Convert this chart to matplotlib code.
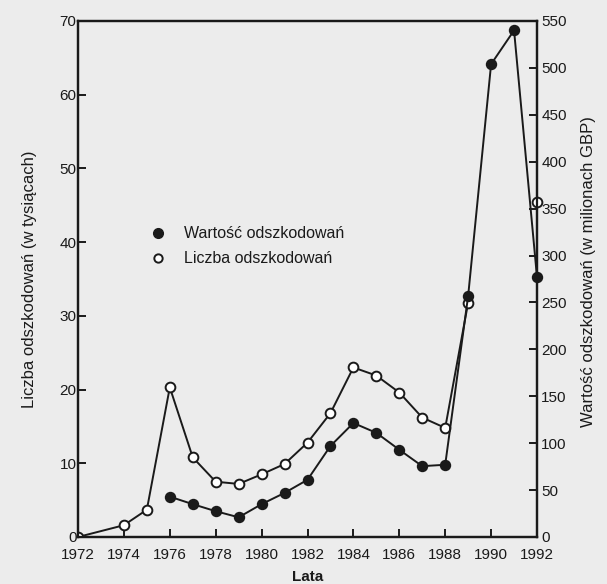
import matplotlib
matplotlib.use("Agg")
import matplotlib.pyplot as plt
import numpy as np

plt.rcParams['font.family'] = ['Liberation Sans', 'DejaVu Sans']

# Liczba odszkodowań (w tysiącach) - left axis, open circles
count_years = [1972, 1974, 1975, 1976, 1977, 1978, 1979, 1980, 1981, 1982,
               1983, 1984, 1985, 1986, 1987, 1988, 1989]
count_vals = [0, 1.6, 3.7, 20.3, 10.8, 7.5, 7.2, 8.5, 9.9, 12.8,
              16.8, 23.0, 21.9, 19.6, 16.2, 14.8, 31.8]
count_extra_year = [1992]
count_extra_val = [45.5]

# Wartość odszkodowań (w milionach GBP) - right axis, filled circles
value_years = [1976, 1977, 1978, 1979, 1980, 1981, 1982, 1983, 1984, 1985,
               1986, 1987, 1988, 1989, 1990, 1991, 1992]
value_vals = [43, 35, 27.5, 21, 35, 47, 61, 97, 121.5, 111,
              93, 75.5, 77, 257, 504, 540, 277]

x_ticks = list(range(1972, 1993, 2))
left_ticks = list(range(0, 71, 10))
right_ticks = list(range(0, 551, 50))

bg = '#ececec'
fig = plt.figure(figsize=(6.07, 5.84), dpi=100, facecolor=bg)
ax = fig.add_axes([78/607, 47/584, (537-78)/607, (537-21)/584], facecolor=bg)
ax2 = ax.twinx()

lc = '#1a1a1a'
ax.plot(count_years, count_vals, '-', color=lc, lw=1.4, marker='o', ms=7,
        mfc='white', mec=lc, mew=1.4, zorder=3)
ax.plot(count_extra_year, count_extra_val, 'o', ms=7, mfc='white', mec=lc,
        mew=1.4, clip_on=False, zorder=5)
ax2.plot(value_years, value_vals, '-', color=lc, lw=1.4, marker='o', ms=7,
         mfc=lc, mec=lc, mew=1.2, clip_on=False, zorder=4)

ax.set_xlim(1972, 1992)
ax.set_ylim(0, 70)
ax2.set_ylim(0, 550)
ax.set_xticks(x_ticks)
ax.set_yticks(left_ticks)
ax2.set_yticks(right_ticks)

for a in (ax, ax2):
    for s in a.spines.values():
        s.set_linewidth(1.6)
        s.set_color(lc)
ax.tick_params(axis='x', direction='in', length=6, width=1.4, labelsize=11,
               colors=lc, pad=8)
ax.tick_params(axis='y', direction='in', length=6, width=1.4, labelsize=11,
               colors=lc, pad=1)
ax2.tick_params(axis='y', direction='in', length=6, width=1.4, labelsize=11,
                colors=lc, pad=3)

ax.set_xlabel('Lata', fontsize=11, fontweight='bold', color=lc, va='center')
ax.xaxis.set_label_coords(0.5, -0.078)
ax.set_ylabel('Liczba odszkodowań (w tysiącach)', fontsize=12, color=lc,
              va='center')
ax.yaxis.set_label_coords(-0.106, 0.5)
ax2.set_ylabel('Wartość odszkodowań (w milionach GBP)', fontsize=12, color=lc,
               rotation=90, va='center')
ax2.yaxis.set_label_coords(1.112, 0.515)

# legend
ax.plot([1975.5], [41.2], 'o', ms=7, mfc=lc, mec=lc)
ax.plot([1975.5], [37.8], 'o', ms=6, mfc='white', mec=lc, mew=1.4)
ax.text(1976.6, 41.2, 'Wartość odszkodowań', fontsize=11.5, va='center', color=lc)
ax.text(1976.6, 37.8, 'Liczba odszkodowań', fontsize=11.5, va='center', color=lc)

fig.savefig('out.png', dpi=100, facecolor=bg)
